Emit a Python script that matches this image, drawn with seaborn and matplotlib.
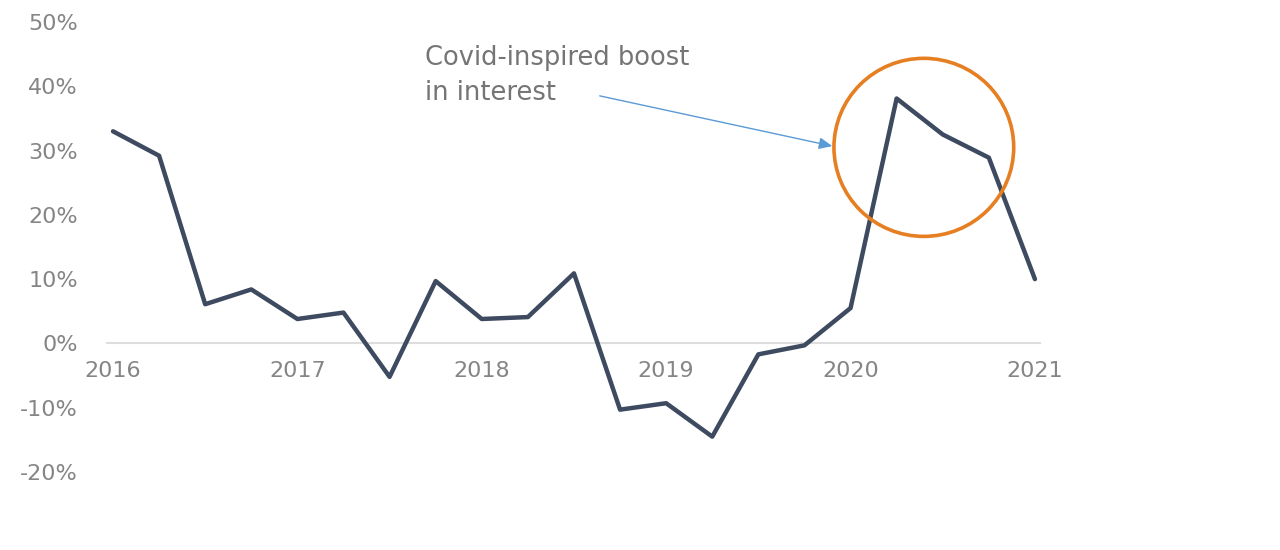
import numpy as np
import pandas as pd
import seaborn as sns
import matplotlib.pyplot as plt
from matplotlib.patches import Ellipse

# quarterly values, 2016 Q1 .. 2021 Q1
quarters = [2016 + i * 0.25 for i in range(21)]
values = [33.0, 29.2, 6.1, 8.4, 3.8, 4.8, -5.2, 9.7, 3.8, 4.1, 10.9,
          -10.3, -9.3, -14.5, -1.7, -0.3, 5.5, 38.1, 32.5, 28.9, 10.0]
year_ticks = [2016, 2017, 2018, 2019, 2020, 2021]
pct_ticks = [-20, -10, 0, 10, 20, 30, 40, 50]

sns.set_style('white')
plt.rcParams['font.family'] = ['DejaVu Sans']

df = pd.DataFrame({'quarter': quarters, 'value': values})

fig = plt.figure(figsize=(12.8, 5.5), dpi=100)
ax = fig.add_axes([107 / 1280, 1 - 472 / 550, 933 / 1280, 450 / 550])

sns.lineplot(data=df, x='quarter', y='value', color='#3d4a5f', linewidth=3.2, ax=ax)

ax.set_xlim(2016 - 0.13 / 4, 2021 + 0.11 / 4)
ax.set_ylim(-20, 50)
ax.set_xticks(year_ticks)
ax.set_xticklabels([str(y) for y in year_ticks])
ax.set_yticks(pct_ticks)
ax.set_yticklabels([f'{p}%' for p in pct_ticks])
ax.set_xlabel('')
ax.set_ylabel('')

for s in ['top', 'right', 'left']:
    ax.spines[s].set_visible(False)
ax.spines['bottom'].set_position(('data', 0))
ax.spines['bottom'].set_color('#dddddd')
ax.spines['bottom'].set_linewidth(1.5)
ax.spines['bottom'].set_zorder(0)

ax.tick_params(axis='y', length=0, pad=21, labelsize=16, labelcolor='#858585')
ax.tick_params(axis='x', length=0, pad=13, labelsize=16, labelcolor='#858585')

# highlight circle around the covid peak
ax.add_patch(Ellipse((2016 + 17.59 / 4, 30.5), 3.9 / 4, 27.7, fill=False,
                     edgecolor='#e67e22', linewidth=2.6, zorder=3))

ax.annotate('Covid-inspired boost\nin interest', xy=(2019.916, 30.6),
            xytext=(2017.69, 46.4), ha='left', va='top', fontsize=18.5,
            color='#757575', linespacing=1.45)
ax.annotate('', xy=(2019.916, 30.6), xytext=(2018.625, 38.6),
            arrowprops=dict(arrowstyle='-|>,head_length=0.8,head_width=0.35',
                            color='#5b9bd5', linewidth=1.0))

plt.savefig('out.png', dpi=100)
